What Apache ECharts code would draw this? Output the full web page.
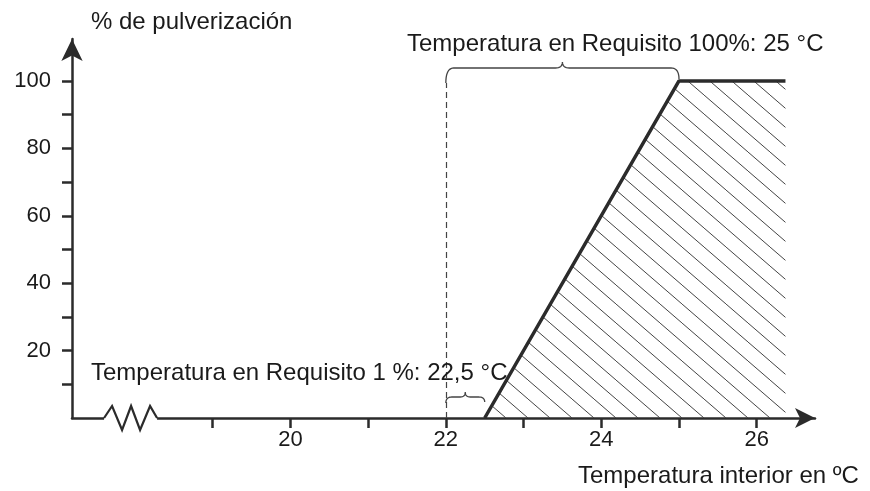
<!DOCTYPE html>
<html>
<head>
<meta charset="utf-8">
<script src="https://cdn.jsdelivr.net/npm/echarts@6/dist/echarts.min.js"></script>
<style>
html,body{margin:0;padding:0;background:#fff;}
#chart{width:870px;height:491px;}
</style>
</head>
<body>
<div id="chart"></div>
<script>
// ---- data ----
const xTickValues = [19, 20, 21, 22, 23, 24, 25, 26];
const xLabelValues = [20, 22, 24, 26];
const yTickValues = [10, 20, 30, 40, 50, 60, 70, 80, 90, 100];
const yLabelValues = [20, 40, 60, 80, 100];
const sprayTemp = [22.5, 25, 26.37];
const sprayPct = [0, 100, 100];
const dashedTemp = 22;
const dashedTop = 99.4;
const braceTopSpan = [22, 25];
const braceSmallSpan = [22, 22.5];
const breakAt = 17.95;
const yName = '% de pulverización';
const xName = 'Temperatura interior en ºC';
const note100 = 'Temperatura en Requisito 100%: 25 °C';
const note1 = 'Temperatura en Requisito 1 %: 22,5 °C';

const FONT = '"Liberation Sans", Arial, Helvetica, sans-serif';
const INK = '#2b2b2b';

function hatchPattern() {
  const c = document.createElement('canvas');
  const w = 22, h = 19;
  c.width = w; c.height = h;
  const g = c.getContext('2d');
  g.strokeStyle = '#444';
  g.lineWidth = 1;
  g.beginPath();
  g.moveTo(-w, -h); g.lineTo(2 * w, 2 * h);
  g.stroke();
  return c;
}

const chart = echarts.init(document.getElementById('chart'), null, {renderer: 'canvas'});

const option = {
  animation: false,
  backgroundColor: '#fff',
  grid: {left: 72, right: 55, top: 39, bottom: 73, containLabel: false},
  xAxis: {
    type: 'value', min: 17.19, max: 26.75,
    axisLine: {show: true, onZero: false, symbol: ['none', 'arrow'], symbolSize: [15, 20],
      lineStyle: {color: INK, width: 2.5}},
    axisTick: {show: true, customValues: xTickValues, length: 10, lineStyle: {color: INK, width: 2.5}},
    axisLabel: {show: true, customValues: xLabelValues, margin: 11, color: '#1a1a1a', fontSize: 22, fontFamily: FONT},
    splitLine: {show: false}
  },
  yAxis: {
    type: 'value', min: 0, max: 112.46,
    axisLine: {show: true, onZero: false, symbol: ['none', 'arrow'], symbolSize: [16, 22],
      lineStyle: {color: INK, width: 2.5}},
    axisTick: {show: true, customValues: yTickValues, length: 10, lineStyle: {color: INK, width: 2.5}},
    axisLabel: {show: true, customValues: yLabelValues, margin: 21, color: '#1a1a1a', fontSize: 22, fontFamily: FONT},
    splitLine: {show: false}
  },
  series: [{
    type: 'line',
    data: sprayTemp.map((t, i) => [t, sprayPct[i]]),
    showSymbol: false,
    symbol: 'none',
    lineStyle: {color: INK, width: 3.5},
    areaStyle: {color: {image: hatchPattern(), repeat: 'repeat'}, opacity: 1},
    markLine: {
      silent: true, symbol: 'none', label: {show: false},
      lineStyle: {color: '#444', width: 1.2, type: [6, 4]},
      data: [[{coord: [dashedTemp, 0]}, {coord: [dashedTemp, dashedTop]}]]
    },
    z: 3
  }]
};
chart.setOption(option);

function px(v, y) { return chart.convertToPixel({gridIndex: 0}, [v, y]); }

function quad(p0, c, p1, n) {
  const pts = [];
  for (let i = 1; i <= n; i++) {
    const t = i / n;
    const a = (1 - t) * (1 - t), b = 2 * (1 - t) * t, d = t * t;
    pts.push([a * p0[0] + b * c[0] + d * p1[0], a * p0[1] + b * c[1] + d * p1[1]]);
  }
  return pts;
}

function brace(x1, x2, yEnd1, yEnd2, yLine, yCusp, r, r2) {
  const xm = (x1 + x2) / 2;
  let pts = [[x1, yEnd1]];
  pts = pts.concat(quad([x1, yEnd1], [x1, yLine], [x1 + r, yLine], 10));
  pts.push([xm - r2, yLine]);
  pts = pts.concat(quad([xm - r2, yLine], [xm, yLine], [xm, yCusp], 8));
  pts = pts.concat(quad([xm, yCusp], [xm, yLine], [xm + r2, yLine], 8));
  pts.push([x2 - r, yLine]);
  pts = pts.concat(quad([x2 - r, yLine], [x2, yLine], [x2, yEnd2], 10));
  return pts;
}

const y100 = px(0, 100)[1];
const y0 = px(0, 0)[1];
const bt1 = px(braceTopSpan[0], 0)[0], bt2 = px(braceTopSpan[1], 0)[0];
const bs1 = px(braceSmallSpan[0], 0)[0], bs2 = px(braceSmallSpan[1], 0)[0];
const bx = px(breakAt, 0)[0];

const zig = [[bx - 27, y0], [bx - 19, y0 - 12], [bx - 9, y0 + 12], [bx, y0 - 12],
             [bx + 9, y0 + 12], [bx + 19, y0 - 12], [bx + 26, y0]];

function txt(text, x, y) {
  return {type: 'text', x: x, y: y, z: 100,
    style: {text: text, fill: '#1a1a1a', font: '24px ' + FONT, align: 'left', verticalAlign: 'middle'}};
}

chart.setOption({
  graphic: [
    {type: 'rect', z: 90, shape: {x: bx - 27, y: y0 - 3, width: 53, height: 6}, style: {fill: '#fff'}},
    {type: 'polyline', z: 91, shape: {points: zig}, style: {stroke: INK, lineWidth: 2.2, fill: null, lineJoin: 'miter'}},
    {type: 'polyline', z: 91, shape: {points: brace(bt1, bt2, y100 + 2, y100 - 2, y100 - 13, y100 - 19, 8, 7)},
      style: {stroke: '#444', lineWidth: 1.3, fill: null}},
    {type: 'polyline', z: 91, shape: {points: brace(bs1, bs2, y0 - 15, y0 - 16, y0 - 21, y0 - 26, 6, 5)},
      style: {stroke: '#444', lineWidth: 1.3, fill: null}},
    txt(yName, 91, 22),
    txt(note100, 407, 44),
    txt(note1, 91, 373),
    txt(xName, 578, 476)
  ]
});
</script>
</body>
</html>
